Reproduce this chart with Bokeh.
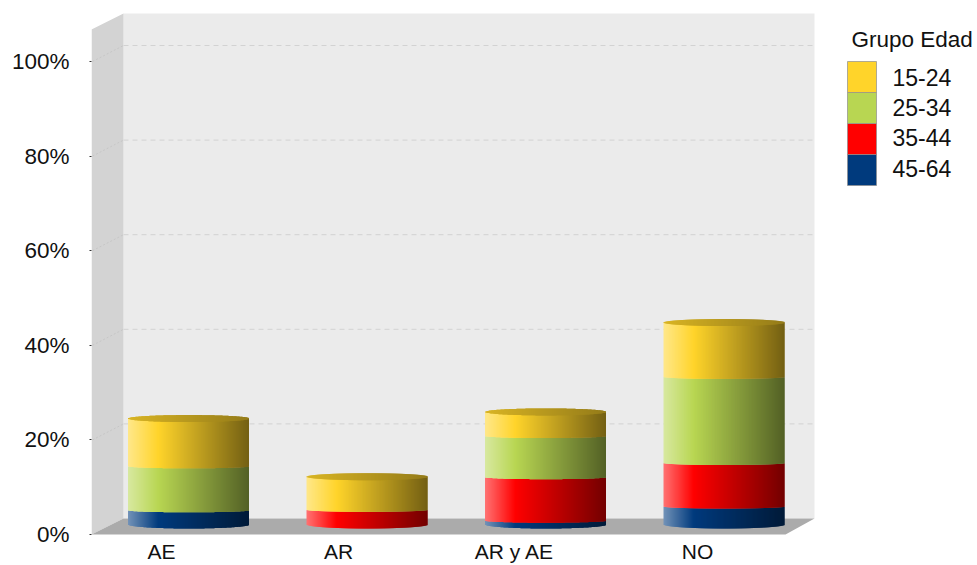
from bokeh.core.properties import value
from bokeh.embed import file_html
from bokeh.models import FixedTicker, Range1d
from bokeh.plotting import figure
from bokeh.resources import INLINE
import numpy as np

# Share of respondents (%) per response group, stacked by age band
categories = ["AE", "AR", "AR y AE", "NO"]
age_bands = ["45-64", "35-44", "25-34", "15-24"]
band_45_64 = [3.0, 0.0, 0.8, 3.8]
band_35_44 = [0.0, 3.1, 9.2, 9.2]
band_25_34 = [9.3, 0.0, 8.7, 18.2]
band_15_24 = [10.1, 7.0, 5.1, 11.5]
series = [band_45_64, band_35_44, band_25_34, band_15_24]
base_colors = ["#003A7D", "#FF0000", "#B8D652", "#FFD42A"]
y_ticks = [0, 20, 40, 60, 80, 100]
font = "Liberation Sans"

# Pixel geometry of the plot frame and the fake 3D box
W, H = 977, 565
FRAME_L = 91
PX_PER_PCT = 4.73
PX_PER_CAT = 178.5
Y0_PX, FIRST_BAR_PX = 534, 188


def xd(px):
    return (px - FIRST_BAR_PX) / PX_PER_CAT


def yd(px):
    return (Y0_PX - px) / PX_PER_PCT


# The frame fills the canvas height so the category labels can sit low in it
p = figure(width=W, height=H, output_backend="svg", toolbar_location=None,
           x_range=Range1d(xd(FRAME_L), xd(W)), y_range=Range1d(yd(H), yd(0)),
           min_border_left=FRAME_L, min_border_right=0, min_border_top=0,
           min_border_bottom=0, outline_line_color=None,
           background_fill_color="white", border_fill_color="white")
p.grid.visible = False
p.xaxis.visible = False

# Back wall, side wall and floor
p.quad(left=[xd(123)], right=[xd(814)], bottom=[yd(518)], top=[yd(13)],
       fill_color="#EBEBEB", line_color=None)
p.patch([xd(91), xd(123), xd(123), xd(91)], [yd(534), yd(518), yd(13), yd(29)],
        fill_color="#D3D3D3", line_color=None)
p.patch([xd(91), xd(123), xd(814), xd(785)], [yd(534), yd(518), yd(518), yd(534)],
        fill_color="#ABABAB", line_color=None)

# Gridlines run along the back wall and slant down the side wall
depth = 16 / PX_PER_PCT
for t in y_ticks[1:]:
    p.line([xd(123), xd(814)], [t + depth, t + depth], line_color="#D2D2D2",
           line_dash="5 4", line_width=1)
    p.line([xd(92), xd(123)], [t, t + depth], line_color="#C6C6C6",
           line_dash="2 2", line_width=1)


def mix(a, b, t):
    return tuple(a[i] + (b[i] - a[i]) * t for i in range(3))


def rgb(h):
    return tuple(int(h[i:i + 2], 16) for i in (1, 3, 5))


def hexc(c):
    return "#%02x%02x%02x" % tuple(int(round(v)) for v in c)


def side_color(base, f):
    # Highlight near the left edge, falling to shadow on the right
    if f < 0.25:
        return mix(mix(base, (255, 255, 255), 0.45), base, f / 0.25)
    return mix(base, tuple(v * 0.45 for v in base), (f - 0.25) / 0.75)


def cap_color(base, f):
    return mix(tuple(v * 0.85 for v in base), tuple(v * 0.58 for v in base), f)


# Cylinders are built from narrow vertical strips, lowest band first.
# Each strip reaches under its right neighbour so no seams show.
BAR_HALF = 60.5 / PX_PER_CAT
FLOOR_SHIFT = 10 / PX_PER_PCT
edges = np.linspace(-1, 1, 122)
mids = (edges[:-1] + edges[1:]) / 2
arc = np.sqrt(1 - mids ** 2)
base_curve = 4 / PX_PER_PCT * arc
inner_curve = 2 / PX_PER_PCT * arc
cap_curve = 3.5 / PX_PER_PCT * arc
fracs = (mids + 1) / 2
reach = np.append(edges[2:], edges[-1])

for i in range(len(categories)):
    left = i + edges[:-1] * BAR_HALF
    right = i + reach * BAR_HALF
    low = FLOOR_SHIFT
    last = None
    for vals, col in zip(series, base_colors):
        v = vals[i]
        if v <= 0:
            continue
        base = rgb(col)
        high = low + v
        under = base_curve if last is None else inner_curve
        p.quad(left=left, right=right, bottom=low - under, top=high - inner_curve,
               fill_color=[hexc(side_color(base, f)) for f in fracs], line_color=None)
        low = high
        last = base
    p.quad(left=left, right=right, bottom=low - cap_curve, top=low + cap_curve,
           fill_color=[hexc(cap_color(last, f)) for f in fracs], line_color=None)

# Legend block at the right of the box
p.text([xd(851)], [yd(39)], text=["Grupo Edad"], text_font=value(font),
       text_font_size=value("22.5px"), text_color="#111111", text_baseline="middle")
swatch_edges = [185, 154, 123, 92, 61]
label_rows = [168, 137, 107, 77]
for k, band in enumerate(age_bands):
    p.quad(left=[xd(847)], right=[xd(876)], bottom=[yd(swatch_edges[k])],
           top=[yd(swatch_edges[k + 1])], fill_color=base_colors[k],
           line_color="#8E8E8E", line_alpha=0.7, line_width=1)
    p.text([xd(892)], [yd(label_rows[k])], text=[band], text_font=value(font),
           text_font_size=value("23px"), text_color="#111111", text_baseline="middle")

# Category labels sit at the front of the box, left of the bars
label_px = [161, 338, 514, 697]
p.text([xd(v) for v in label_px], [yd(551)] * len(categories), text=categories,
       text_font=value(font), text_font_size=value("21px"), text_color="#111111",
       text_align="center", text_baseline="middle")

p.yaxis.ticker = FixedTicker(ticks=y_ticks)
p.yaxis.major_label_overrides = {t: f"{t}%" for t in y_ticks}
p.yaxis.axis_line_color = None
p.yaxis.major_tick_line_color = "#333333"
p.yaxis.major_tick_in = 0
p.yaxis.major_tick_out = 2
p.yaxis.minor_tick_line_color = None
p.yaxis.major_label_standoff = 20
p.yaxis.major_label_text_font = font
p.yaxis.major_label_text_font_size = "22.5px"
p.yaxis.major_label_text_color = "#111111"

open("out.html", "w").write(file_html(p, INLINE))
